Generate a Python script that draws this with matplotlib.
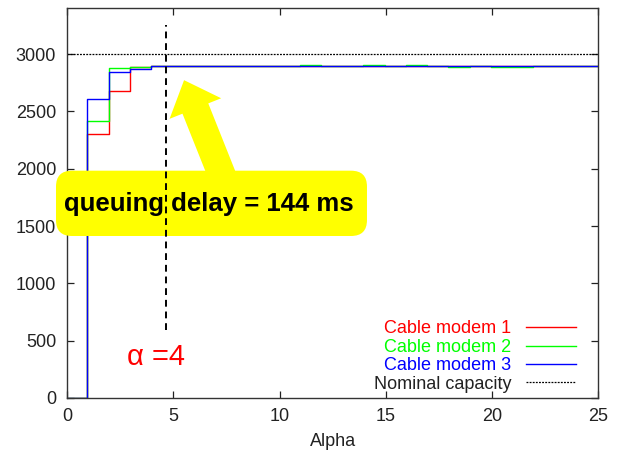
import matplotlib
matplotlib.use("Agg")
import matplotlib.pyplot as plt
from matplotlib.patches import FancyBboxPatch

# ---- data ----
alpha_edges = [0, 0.95, 1.95, 2.95, 3.95, 4.95, 5.95, 6.95, 7.95, 8.95, 9.95,
               10.95, 11.95, 12.95, 13.95, 14.95, 15.95, 16.95, 17.95, 18.95,
               19.95, 20.95, 21.95, 22.95, 23.95, 25]
cm1 = [0, 2302, 2680, 2890, 2893, 2893, 2893, 2893, 2893, 2893, 2893, 2893, 2893,
       2893, 2900, 2900, 2900, 2900, 2900, 2900, 2900, 2900, 2900, 2900, 2900]
cm2 = [0, 2418, 2875, 2890, 2893, 2893, 2893, 2893, 2893, 2893, 2893, 2903, 2893,
       2893, 2905, 2900, 2905, 2900, 2890, 2900, 2890, 2890, 2900, 2900, 2900]
cm3 = [0, 2607, 2846, 2869, 2893, 2893, 2893, 2893, 2893, 2893, 2893, 2893, 2893,
       2893, 2900, 2900, 2900, 2900, 2900, 2900, 2900, 2900, 2900, 2900, 2900]
nominal = 3000
alpha_mark = 4.65
labels = ["Cable modem 1", "Cable modem 2", "Cable modem 3", "Nominal capacity"]
xticks = [0, 5, 10, 15, 20, 25]
yticks = [0, 500, 1000, 1500, 2000, 2500, 3000]

plt.rcParams['font.family'] = ['Liberation Sans', 'DejaVu Sans']

fig = plt.figure(figsize=(6.18, 4.57), dpi=100)
ax = fig.add_axes([67.3/618, 1-398/457, (598-67.3)/618, (398-8.3)/457])

def stepped(vals):
    return vals + [vals[-1]]

ax.step(alpha_edges, stepped(cm1), where='post', color='#ff0000', lw=1.0, label=labels[0], zorder=2)
ax.step(alpha_edges, stepped(cm2), where='post', color='#00ff00', lw=1.0, label=labels[1], zorder=2)
ax.step(alpha_edges, stepped(cm3), where='post', color='#0000ff', lw=1.0, label=labels[2], zorder=2)
ax.plot([0, 25], [nominal, nominal], color='black', lw=0.9, ls=(0, (1.5, 1)), label=labels[3], zorder=2)

ax.set_xlim(0, 25)
ax.set_ylim(0, 3400)
ax.set_xticks(xticks)
ax.set_yticks(yticks)
ax.tick_params(direction='in', length=5, width=0.9, top=True, right=True,
               labelsize=13, colors='#222222', pad=8)
ax.tick_params(axis='x', pad=7)
for s in ax.spines.values():
    s.set_color('#333333')
    s.set_linewidth(1.0)
ax.set_xlabel('Alpha', fontsize=13, color='#222222', labelpad=6)

# dashed vertical marker
ax.plot([alpha_mark, alpha_mark], [590, 3255], color='black', lw=1.4,
        ls=(0, (3.5, 2.5)), zorder=5)

# big yellow arrow
ax.annotate('', xy=(5.50, 2773), xytext=(7.66, 1770),
            arrowprops=dict(arrowstyle='simple,head_length=22,head_width=40,tail_width=20',
                            mutation_scale=1, fc='#ffff00', ec='none',
                            shrinkA=0, shrinkB=0),
            zorder=3)

# yellow box
box = FancyBboxPatch((-0.0213, 0.4157), 0.5860, 0.1676,
                     boxstyle='round,pad=0,rounding_size=0.03',
                     transform=ax.transAxes, fc='#ffff00', ec='none',
                     clip_on=False, zorder=4, mutation_aspect=1.36)
ax.add_patch(box)
ax.text(0.2665, 0.497, 'queuing delay = 144 ms', transform=ax.transAxes,
        ha='center', va='center', fontsize=18.5, fontweight='bold', color='black',
        zorder=6)

ax.text(2.8, 360, 'α =4', color='#ff0000', fontsize=21, ha='left', va='center', zorder=6)

leg = ax.legend(loc='lower right', frameon=False, markerfirst=False, fontsize=13,
                labelcolor='linecolor', handlelength=2.8, handletextpad=0.8,
                labelspacing=0.08, borderaxespad=0.0, bbox_to_anchor=(0.973, -0.005))
leg.get_texts()[3].set_color('#222222')
for t in leg.get_texts():
    t.set_ha('right')

fig.savefig('out.png', dpi=100, facecolor='white')
